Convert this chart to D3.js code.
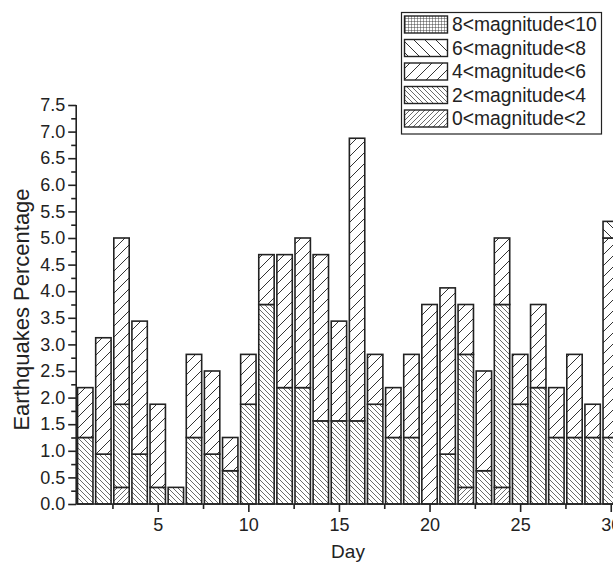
<!DOCTYPE html>
<html>
<head>
<meta charset="utf-8">
<script src="https://cdn.jsdelivr.net/npm/d3@7/dist/d3.min.js"></script>
<style>
  html, body { margin: 0; padding: 0; background: #fff; overflow: hidden; }
  svg { display: block; }
  text { font-family: "Liberation Sans", Arial, sans-serif; fill: #222; }
</style>
</head>
<body>
<svg id="chart" width="613" height="564"></svg>
<script>
// ---- data ----
const days = d3.range(1, 31);
const seriesNames = ["0<magnitude<2", "2<magnitude<4", "4<magnitude<6", "6<magnitude<8", "8<magnitude<10"];
const mag0_2 = [0,0,0.3125,0,0,0,0,0,0,0, 0,0,0,0,0,0,0,0,0,0, 0,0.3125,0,0.3125,0,0,0,0,0,0];
const mag2_4 = [1.25,0.9375,1.5625,0.9375,0.3125,0.3125,1.25,0.9375,0.625,1.875,
                3.75,2.1875,2.1875,1.5625,1.5625,1.5625,1.875,1.25,1.25,0,
                0.9375,2.5,0.625,3.4375,1.875,2.1875,1.25,1.25,1.25,1.25];
const mag4_6 = [0.9375,2.1875,3.125,2.5,1.5625,0,1.5625,1.5625,0.625,0.9375,
                0.9375,2.5,2.8125,3.125,1.875,5.3125,0.9375,0.9375,1.5625,3.75,
                3.125,0.9375,1.875,1.25,0.9375,1.5625,0.9375,1.5625,0.625,3.75];
const mag6_8 = [0,0,0,0,0,0,0,0,0,0, 0,0,0,0,0,0,0,0,0,0, 0,0,0,0,0,0,0,0,0,0.3125];
const mag8_10 = [0,0,0,0,0,0,0,0,0,0, 0,0,0,0,0,0,0,0,0,0, 0,0,0,0,0,0,0,0,0,0];
const yTicks = d3.range(0, 7.51, 0.5);
const xTicks = [5, 10, 15, 20, 25, 30];

const seriesValues = [mag0_2, mag2_4, mag4_6, mag6_8, mag8_10];
const patternIds = ["p0", "p1", "p2", "p3", "p4"];

const svg = d3.select("#chart");

// ---- patterns ----
const defs = svg.append("defs");
function hatch(id, s, dir, color, sw) {
  const p = defs.append("pattern").attr("id", id).attr("patternUnits", "userSpaceOnUse")
    .attr("width", s).attr("height", s);
  p.append("rect").attr("width", s).attr("height", s).attr("fill", "#fff");
  const d = dir === "/"
    ? `M0,${s} L${s},0 M${-s/2},${s/2} L${s/2},${-s/2} M${s/2},${s*1.5} L${s*1.5},${s/2}`
    : `M0,0 L${s},${s} M${-s/2},${s/2} L${s/2},${s*1.5} M${s/2},${-s/2} L${s*1.5},${s/2}`;
  p.append("path").attr("d", d).attr("stroke", color).attr("stroke-width", sw).attr("fill", "none");
}
hatch("p0", 5, "/", "#3a3a3a", 0.75);
hatch("p1", 5, "\\", "#3a3a3a", 0.75);
hatch("p2", 11, "/", "#333", 1);
hatch("p3", 11, "\\", "#333", 1);
(function grid() {
  const s = 3;
  const p = defs.append("pattern").attr("id", "p4").attr("patternUnits", "userSpaceOnUse")
    .attr("width", s).attr("height", s);
  p.append("rect").attr("width", s).attr("height", s).attr("fill", "#fff");
  p.append("path").attr("d", `M0,0 L${s},0 M0,0 L0,${s}`).attr("stroke", "#333").attr("stroke-width", 0.9);
})();

// ---- scales ----
const x = d3.scaleLinear().domain([0.5, 30.5]).range([76.2, 619.8]);
const y = d3.scaleLinear().domain([0, 7.5]).range([504, 105]);
const barW = (x(2) - x(1)) * 0.85;

// ---- stacked bars ----
const table = days.map((d, i) => {
  const o = { day: d };
  seriesNames.forEach((n, k) => o[n] = seriesValues[k][i]);
  return o;
});
const stacked = d3.stack().keys(seriesNames)(table);
const barsG = svg.append("g");
stacked.forEach((layer, k) => {
  barsG.append("g").selectAll("rect")
    .data(layer.filter(d => d[1] - d[0] > 0))
    .join("rect")
    .attr("x", d => x(d.data.day) - barW / 2)
    .attr("y", d => y(d[1]))
    .attr("width", barW)
    .attr("height", d => y(d[0]) - y(d[1]))
    .attr("fill", `url(#${patternIds[k]})`)
    .attr("stroke", "#222")
    .attr("stroke-width", 1.6);
});

// ---- axes ----
const axisColor = "#222";
const yAxis = svg.append("g").attr("transform", `translate(${x(0.5)},0)`)
  .call(d3.axisLeft(y).tickValues(yTicks).tickFormat(d3.format(".1f")).tickSize(8).tickPadding(3));
const yMinor = svg.append("g").attr("transform", `translate(${x(0.5)},0)`)
  .call(d3.axisLeft(y).tickValues(d3.range(0.25, 7.5, 0.5)).tickFormat("").tickSize(5));
const xAxis = svg.append("g").attr("transform", `translate(0,${y(0)})`)
  .call(d3.axisBottom(x).tickValues(xTicks).tickFormat(d3.format("d")).tickSize(8).tickPadding(6));
const xMinor = svg.append("g").attr("transform", `translate(0,${y(0)})`)
  .call(d3.axisBottom(x).tickValues(d3.range(2.5, 30, 5)).tickFormat("").tickSize(5));
[yAxis, yMinor, xAxis, xMinor].forEach(g => {
  g.selectAll(".tick line").attr("stroke", axisColor).attr("stroke-width", 1.6);
  g.selectAll("text").attr("font-size", 18).attr("fill", "#222")
    .attr("font-family", '"Liberation Sans", Arial, sans-serif');
  g.select("path.domain").remove();
});
svg.append("line").attr("x1", x(0.5)).attr("x2", x(0.5)).attr("y1", y(0)).attr("y2", y(7.5))
  .attr("stroke", axisColor).attr("stroke-width", 1.6);
svg.append("line").attr("x1", x(0.5)).attr("x2", x(30.5)).attr("y1", y(0)).attr("y2", y(0))
  .attr("stroke", axisColor).attr("stroke-width", 1.6);

// axis titles
svg.append("text").attr("x", (x(0.5) + x(30.5)) / 2).attr("y", 558)
  .attr("text-anchor", "middle").attr("font-size", 19).text("Day");
svg.append("text").attr("transform", `translate(29,${(y(0) + y(7.5)) / 2 + 5}) rotate(-90)`)
  .attr("text-anchor", "middle").attr("font-size", 22).text("Earthquakes Percentage");

// ---- legend ----
const lg = svg.append("g");
lg.append("rect").attr("x", 401.5).attr("y", 12.5).attr("width", 200).attr("height", 121.5)
  .attr("fill", "#fff").attr("stroke", "#222").attr("stroke-width", 1.2);
const legendOrder = [4, 3, 2, 1, 0];
legendOrder.forEach((k, i) => {
  const cy = 24.5 + i * 23.5;
  lg.append("rect").attr("x", 404.5).attr("y", cy - 8.5).attr("width", 43).attr("height", 17)
    .attr("fill", `url(#${patternIds[k]})`).attr("stroke", "#222").attr("stroke-width", 1.4);
  lg.append("text").attr("x", 452).attr("y", cy).attr("dy", "0.36em")
    .attr("font-size", 19.3).text(seriesNames[k]);
});
</script>
</body>
</html>
